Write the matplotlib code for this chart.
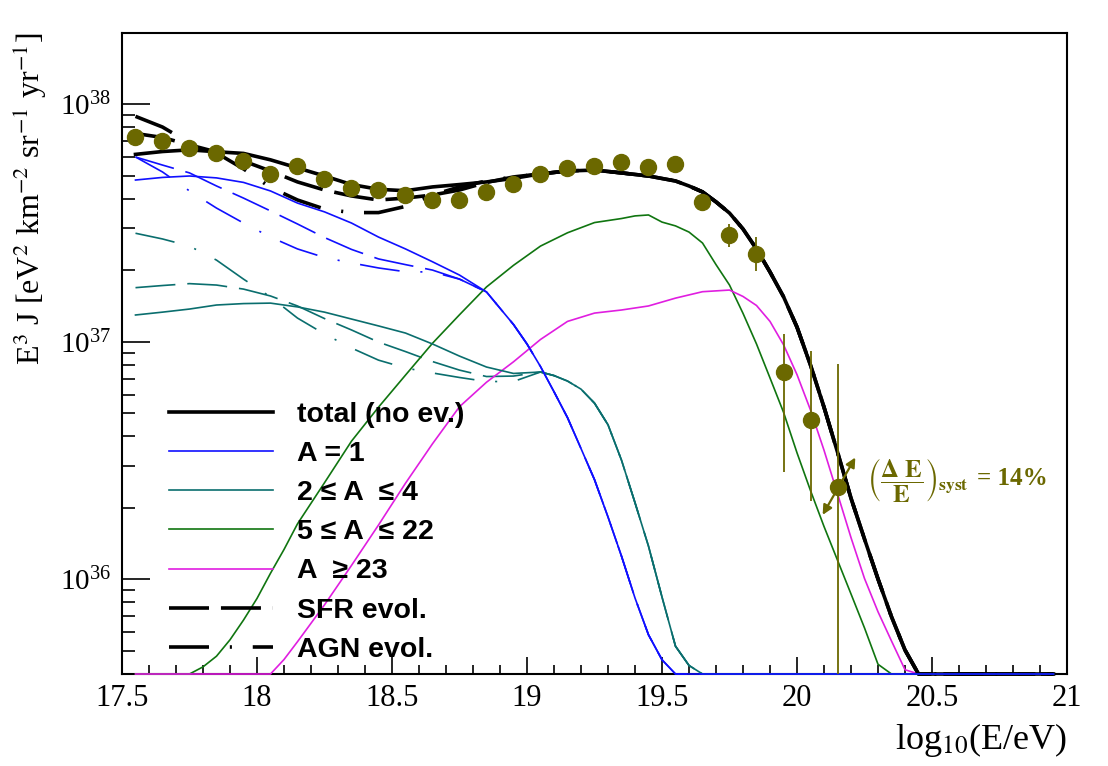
import numpy as np
import matplotlib
matplotlib.use("Agg")
import matplotlib.pyplot as plt
from matplotlib.ticker import MultipleLocator, LogLocator, NullFormatter, FuncFormatter

plt.rcParams['font.family'] = ['Liberation Serif', 'DejaVu Serif']
plt.rcParams['mathtext.fontset'] = 'stix'
plt.rcParams['lines.scale_dashes'] = False

FL = 35.0  # below the frame, ROOT draws it on the bottom edge

# model curves: log10(E/eV) and log10(E^3 J)
total_e = [17.55, 17.65, 17.75, 17.85, 17.95, 18.05, 18.15, 18.25, 18.35, 18.45,
           18.55, 18.65, 18.75, 18.85, 18.95, 19.05, 19.15, 19.25, 19.35, 19.45,
           19.55, 19.60, 19.65, 19.70, 19.75, 19.80, 19.85, 19.90, 19.95, 20.00,
           20.05, 20.10, 20.15, 20.20, 20.25, 20.30, 20.35, 20.40, 20.45, 20.55,
           20.65, 20.75, 20.85, 20.95]
total = [37.789, 37.801, 37.808, 37.800, 37.793, 37.766, 37.732, 37.698, 37.662, 37.642,
         37.636, 37.652, 37.662, 37.673, 37.688, 37.707, 37.719, 37.723, 37.711, 37.698,
         37.677, 37.656, 37.631, 37.589, 37.542, 37.475, 37.391, 37.294, 37.190, 37.062,
         36.902, 36.725, 36.536, 36.342, 36.170, 36.002, 35.843, 35.703, 35.580, FL,
         FL, FL, FL, FL]
# evolved models differ from "total" only below 19 (first 15 bins)
sfr_low = [37.877, 37.860, 37.829, 37.799, 37.761, 37.719, 37.673, 37.639, 37.614, 37.597,
           37.605, 37.618, 37.639, 37.671, 37.694]
agn_low = [37.949, 37.904, 37.837, 37.795, 37.728, 37.650, 37.597, 37.559, 37.544, 37.544,
           37.570, 37.618, 37.652, 37.677, 37.694]

proton_e = [17.55, 17.65, 17.75, 17.85, 17.95, 18.05, 18.15, 18.25, 18.35, 18.45,
            18.55, 18.65, 18.75, 18.85, 18.95, 19.00, 19.05, 19.10, 19.15, 19.20,
            19.25, 19.30, 19.35, 19.40, 19.45, 19.50, 19.55, 19.65, 19.75, 19.85,
            19.95, 20.05, 20.15, 20.25, 20.35, 20.45, 20.55, 20.65, 20.75, 20.85,
            20.95]
proton = [37.681, 37.692, 37.698, 37.690, 37.671, 37.635, 37.584, 37.547, 37.500, 37.441,
          37.391, 37.337, 37.281, 37.210, 37.073, 36.991, 36.896, 36.790, 36.681, 36.551,
          36.420, 36.263, 36.098, 35.922, 35.767, 35.662, 35.600, FL, FL, FL,
          FL, FL, FL, FL, FL, FL, FL, FL, FL, FL,
          FL]
proton_sfr_low = [37.778, 37.744, 37.711, 37.656, 37.605, 37.551, 37.496, 37.439, 37.389, 37.349,
                  37.325, 37.302, 37.264]
proton_agn_low = [37.778, 37.715, 37.635, 37.563, 37.500, 37.441, 37.391, 37.355, 37.332, 37.311,
                  37.295, 37.294, 37.264]

helium_e = [17.55, 17.65, 17.75, 17.85, 17.95, 18.05, 18.15, 18.25, 18.35, 18.45,
            18.55, 18.65, 18.75, 18.85, 18.95, 19.05, 19.10, 19.15, 19.20, 19.25,
            19.30, 19.35, 19.40, 19.45, 19.50, 19.55, 19.60, 19.65, 19.75, 19.85,
            19.95, 20.05, 20.15, 20.25, 20.35, 20.45, 20.55, 20.65, 20.75, 20.85,
            20.95]
helium = [37.113, 37.125, 37.138, 37.155, 37.161, 37.163, 37.147, 37.125, 37.096, 37.067,
          37.037, 36.991, 36.940, 36.894, 36.867, 36.873, 36.858, 36.835, 36.801, 36.742,
          36.651, 36.502, 36.323, 36.140, 35.926, 35.719, 35.638, FL, FL, FL,
          FL, FL, FL, FL, FL, FL, FL, FL, FL, FL,
          FL]
helium_sfr_low = [37.228, 37.237, 37.245, 37.239, 37.222, 37.193, 37.151, 37.098, 37.050, 36.999,
                  36.959, 36.917, 36.881, 36.854, 36.856]
helium_agn_low = [37.457, 37.433, 37.403, 37.344, 37.264, 37.189, 37.100, 37.033, 36.974, 36.923,
                  36.890, 36.869, 36.850, 36.833, 36.833]

cno_e = [17.55, 17.65, 17.75, 17.80, 17.85, 17.90, 17.95, 18.00, 18.05, 18.10,
         18.15, 18.25, 18.35, 18.45, 18.55, 18.65, 18.75, 18.85, 18.95, 19.05,
         19.15, 19.25, 19.35, 19.40, 19.45, 19.50, 19.55, 19.60, 19.65, 19.70,
         19.75, 19.80, 19.85, 19.90, 19.95, 20.00, 20.05, 20.10, 20.15, 20.20,
         20.25, 20.30, 20.35, 20.45, 20.55, 20.65, 20.75, 20.85, 20.95]
cno = [FL, FL, 35.600, 35.632, 35.677, 35.746, 35.829, 35.920, 36.026, 36.126,
       36.234, 36.407, 36.582, 36.725, 36.860, 36.994, 37.114, 37.231, 37.322, 37.403,
       37.459, 37.502, 37.519, 37.530, 37.534, 37.504, 37.488, 37.462, 37.416, 37.325,
       37.239, 37.120, 36.991, 36.848, 36.704, 36.533, 36.374, 36.223, 36.081, 35.939,
       35.796, 35.643, FL, FL, FL, FL, FL, FL, FL]

heavy_e = [17.55, 17.65, 17.75, 17.85, 17.95, 18.05, 18.10, 18.15, 18.25, 18.35,
           18.45, 18.55, 18.65, 18.75, 18.85, 18.95, 19.05, 19.15, 19.25, 19.35,
           19.45, 19.55, 19.65, 19.75, 19.80, 19.85, 19.90, 19.95, 20.00, 20.05,
           20.10, 20.15, 20.20, 20.25, 20.30, 20.35, 20.40, 20.45, 20.55, 20.65,
           20.75, 20.85, 20.95]
heavy = [FL, FL, FL, FL, FL, 35.600, 35.663, 35.738, 35.893, 36.059,
         36.229, 36.405, 36.571, 36.727, 36.830, 36.916, 37.010, 37.086, 37.121, 37.134,
         37.151, 37.184, 37.211, 37.218, 37.191, 37.153, 37.086, 36.988, 36.862, 36.713,
         36.544, 36.361, 36.176, 36.004, 35.864, 35.741, 35.620, FL, FL, FL,
         FL, FL, FL]

# Auger data points, E^3 J in units of 1e37
data_e = [17.55, 17.65, 17.75, 17.85, 17.95, 18.05, 18.15, 18.25, 18.35, 18.45,
          18.55, 18.65, 18.75, 18.85, 18.95, 19.05, 19.15, 19.25, 19.35, 19.45,
          19.55, 19.65, 19.75, 19.85, 19.95, 20.05, 20.15]
data_j = [7.31, 7.01, 6.53, 6.25, 5.77, 5.07, 5.48, 4.86, 4.43, 4.36,
          4.14, 3.94, 3.96, 4.29, 4.62, 5.07, 5.39, 5.51, 5.70, 5.43,
          5.62, 3.87, 2.82, 2.34, 0.744, 0.469, 0.245]
data_hi = [0] * 22 + [3.13, 2.75, 1.08, 0.919, 0.805]
data_lo = [0] * 22 + [2.51, 1.99, 0.284, 0.214, 0.0001]

ymin, ymax = 4e35, 2e38

black = 'black'
c_p = '#1010ff'
c_he = '#0a6e6e'
c_cno = '#107510'
c_heavy = '#e01ee0'
olive = '#6b6800'

sfr_dash = (0, (28.8, 8.6))
agn_dash = (0, (28.8, 15, 1.5, 15))


def curve(vals):
    return np.clip(10 ** np.array(vals), ymin, None)


fig = plt.figure(figsize=(11.08, 7.66), dpi=100)
ax = fig.add_axes([0.1101, 0.1201, 0.8529, 0.8372])

thin = 1.2
thick = 2.6
kw = dict(zorder=3, clip_on=False)

ax.plot(helium_e, curve(helium_sfr_low + helium[15:]), color=c_he, lw=thin, ls=sfr_dash, **kw)
ax.plot(helium_e, curve(helium_agn_low + helium[15:]), color=c_he, lw=thin, ls=agn_dash, **kw)
ax.plot(proton_e, curve(proton_sfr_low + proton[13:]), color=c_p, lw=thin, ls=sfr_dash, **kw)
ax.plot(proton_e, curve(proton_agn_low + proton[13:]), color=c_p, lw=thin, ls=agn_dash, **kw)
h_cno, = ax.plot(cno_e, curve(cno), color=c_cno, lw=thin, **kw)
h_heavy, = ax.plot(heavy_e, curve(heavy), color=c_heavy, lw=thin, **kw)
kw['zorder'] = 4
h_sfr, = ax.plot(total_e, curve(sfr_low + total[15:]), color=black, lw=thick, ls=sfr_dash, **kw)
h_agn, = ax.plot(total_e, curve(agn_low + total[15:]), color=black, lw=thick, ls=agn_dash, **kw)
h_tot, = ax.plot(total_e, curve(total), color=black, lw=thick, **kw)
kw['zorder'] = 4.5
h_he, = ax.plot(helium_e, curve(helium), color=c_he, lw=thin, **kw)
h_p, = ax.plot(proton_e, curve(proton), color=c_p, lw=thin, **kw)

dj = np.array(data_j) * 1e37
lo = np.array(data_lo) * 1e37
hi = np.array(data_hi) * 1e37
err = [np.where(lo > 0, dj - lo, 0), np.where(hi > 0, hi - dj, 0)]
ax.errorbar(data_e, dj, yerr=err, fmt='o', color=olive, ms=11.5, elinewidth=1.3,
            capsize=0, zorder=5)

# systematic energy-scale arrow
ax.annotate('', xy=(20.216, 3.26e36), xytext=(20.095, 1.87e36),
            arrowprops=dict(arrowstyle='<|-|>', color=olive, lw=1.6,
                            mutation_scale=14, shrinkA=0, shrinkB=0), zorder=6)
ax.text(20.258, 2.62e36, r'$\left(\dfrac{\mathbf{\Delta\ E}}{\mathbf{E}}\right)_{\mathbf{syst}}$',
        color=olive, fontsize=18, ha='left', va='center')
ax.text(20.665, 2.66e36, '= 14%', color=olive, fontsize=18, fontweight='bold',
        ha='left', va='center')

ax.set_yscale('log')
ax.set_xlim(17.5, 21)
ax.set_ylim(ymin, ymax)

ax.xaxis.set_major_locator(MultipleLocator(0.5))
ax.xaxis.set_minor_locator(MultipleLocator(0.1))
ax.xaxis.set_major_formatter(FuncFormatter(lambda v, p: f'{v:g}'))
ax.yaxis.set_major_locator(LogLocator(base=10))
ax.yaxis.set_minor_locator(LogLocator(base=10, subs=np.arange(2, 10)))
ax.yaxis.set_minor_formatter(NullFormatter())

ax.tick_params(axis='both', which='both', direction='in', top=False, right=False, width=1.2)
ax.tick_params(axis='x', which='major', length=12, labelsize=22, pad=7)
ax.tick_params(axis='x', which='minor', length=6.5)
ax.tick_params(axis='y', which='major', length=20, labelsize=21, pad=8)
ax.tick_params(axis='y', which='minor', length=9.5)
for s in ax.spines.values():
    s.set_linewidth(1.5)

ax.set_xlabel(r'log$_{10}$(E/eV)', fontsize=26, loc='right')
ax.xaxis.set_label_coords(1.0, -0.074)
ax.xaxis.label.set_va('top')
ax.set_ylabel(r'E$^{3}$ J [eV$^{2}$ km$^{-2}$ sr$^{-1}$ yr$^{-1}$]', fontsize=23, loc='top')
ax.yaxis.set_label_coords(-0.077, 1.0)

leg = ax.legend([h_tot, h_p, h_he, h_cno, h_heavy, h_sfr, h_agn],
                ['total (no ev.)', 'A = 1', '2 \u2264 A  \u2264 4', '5 \u2264 A  \u2264 22',
                 'A  \u2265 23', 'SFR evol.', 'AGN evol.'],
                loc='upper left', bbox_to_anchor=(0.05, 0.424), frameon=False,
                prop=dict(family='Liberation Sans', weight='bold', size=20.5),
                handlelength=3.65, handletextpad=0.84, labelspacing=0.46,
                borderpad=0, borderaxespad=0)

fig.savefig('out.png', dpi=100)
